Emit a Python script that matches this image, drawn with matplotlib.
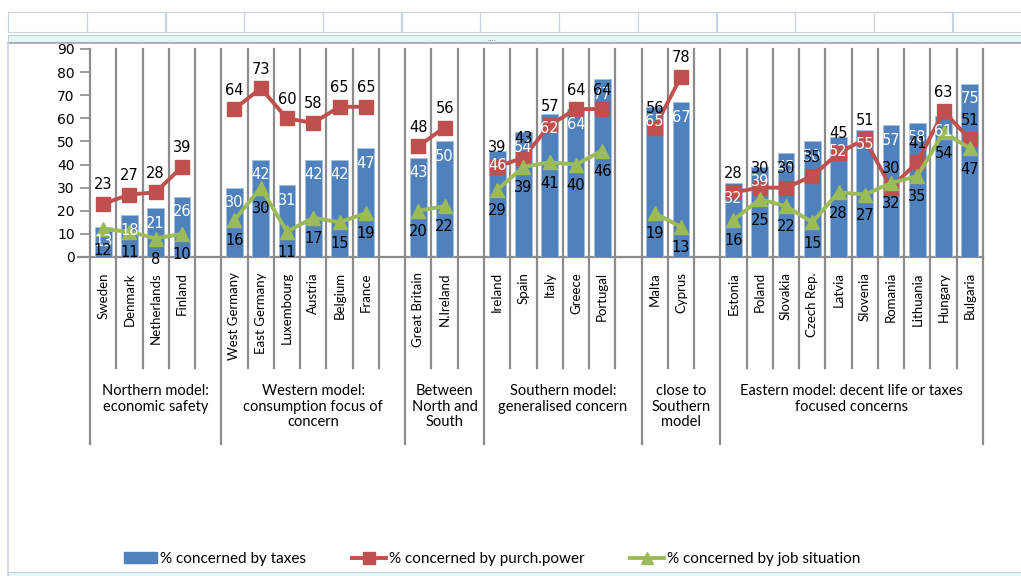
import numpy as np
import matplotlib.pyplot as plt
from matplotlib.patches import Rectangle
from matplotlib.lines import Line2D

# groups (models) and their countries
groups = ["Northern model:\neconomic safety",
          "Western model:\nconsumption focus of\nconcern",
          "Between\nNorth and\nSouth",
          "Southern model:\ngeneralised concern",
          "close to\nSouthern\nmodel",
          "Eastern model: decent life or taxes\nfocused concerns"]
group_sizes = [4, 6, 2, 5, 2, 10]

countries = ["Sweden", "Denmark", "Netherlands", "Finland",
             "West Germany", "East Germany", "Luxembourg", "Austria", "Belgium", "France",
             "Great Britain", "N.Ireland",
             "Ireland", "Spain", "Italy", "Greece", "Portugal",
             "Malta", "Cyprus",
             "Estonia", "Poland", "Slovakia", "Czech Rep.", "Latvia", "Slovenia",
             "Romania", "Lithuania", "Hungary", "Bulgaria"]

taxes = [13, 18, 21, 26,
         30, 42, 31, 42, 42, 47,
         43, 50,
         46, 54, 62, 64, 77,
         65, 67,
         32, 39, 45, 50, 52, 55, 57, 58, 61, 75]
purch = [23, 27, 28, 39,
         64, 73, 60, 58, 65, 65,
         48, 56,
         39, 43, 57, 64, 64,
         56, 78,
         28, 30, 30, 35, 45, 51, 30, 41, 63, 51]
job = [12, 11, 8, 10,
       16, 30, 11, 17, 15, 19,
       20, 22,
       29, 39, 41, 40, 46,
       19, 13,
       16, 25, 22, 15, 28, 27, 32, 35, 54, 47]

C_BAR = "#4F81BD"
C_RED = "#C0504D"
C_GRN = "#9BBB59"
C_GRID = "#8C8C8C"
W, H = 1021, 576

# slot layout: each group followed by an empty slot (except the last)
xs = []
bounds = [0]
pos = 0
for gi, n in enumerate(group_sizes):
    xs.extend(range(pos, pos + n))
    pos += n + (1 if gi < len(group_sizes) - 1 else 0)
    bounds.append(pos)
nslots = pos
xs = np.array(xs)

fig = plt.figure(figsize=(W / 100, H / 100), dpi=100)
ax = fig.add_axes([90 / W, 1 - 257 / H, (983 - 90) / W, (257 - 49) / H])
ax.set_xlim(-0.5, nslots - 0.5)
ax.set_ylim(0, 90)

# vertical grid lines at every slot boundary, longer at group boundaries
for b in range(nslots + 1):
    xb = b - 0.5
    low = -81 if b in bounds else -48
    ax.plot([xb, xb], [90, low], color=C_GRID, lw=1.6, clip_on=False, zorder=1)
ax.plot([-0.5 - 0.45, nslots - 0.5], [0, 0], color=C_GRID, lw=1.6, clip_on=False, zorder=1)

ax.bar(xs, taxes, width=0.64, color=C_BAR, edgecolor="#A7C0DE", linewidth=0.6, zorder=2)

# lines are broken between groups
start = 0
for n in group_sizes:
    sl = slice(start, start + n)
    ax.plot(xs[sl], purch[sl], color=C_RED, lw=2.8, marker="s", ms=9.5, zorder=3)
    ax.plot(xs[sl], job[sl], color=C_GRN, lw=2.8, marker="^", ms=10, zorder=3)
    start += n

lab_font = dict(fontsize=10.5, family="DejaVu Sans", ha="center", va="center", zorder=5)
for x, t, p, j in zip(xs, taxes, purch, job):
    ax.annotate(str(t), (x, t), xytext=(0, -10.8), textcoords="offset points",
                color="white", **lab_font)
    ax.annotate(str(p), (x, p), xytext=(0, 13.7), textcoords="offset points",
                color="black", **lab_font)
    ax.annotate(str(j), (x, j), xytext=(0, -15), textcoords="offset points",
                color="black", **lab_font)

for s in ax.spines.values():
    s.set_visible(False)
ax.set_xticks([])
ax.set_yticks(range(0, 91, 10))
ax.tick_params(axis="y", length=7, width=1.2, color=C_GRID, labelsize=10, pad=4)

# country labels
for x, name in zip(xs, countries):
    ax.text(x, -6.5, name, rotation=90, ha="center", va="top",
            fontsize=9.5, family="Lato")

# group labels
for gi, g in enumerate(groups):
    cx = (bounds[gi] + bounds[gi + 1]) / 2 - 0.5
    ax.text(cx, -55, g, ha="center", va="top", multialignment="center",
            fontsize=10.5, family="Lato", linespacing=1.15)

handles = [Rectangle((0, 0), 1, 1, color=C_BAR),
           Line2D([], [], color=C_RED, lw=2.8, marker="s", ms=8),
           Line2D([], [], color=C_GRN, lw=2.8, marker="^", ms=8)]
fig.legend(handles, ["% concerned by taxes", "% concerned by purch.power",
                     "% concerned by job situation"],
           loc="center", bbox_to_anchor=(0.482, 1 - 559 / H), ncol=3, frameon=False,
           prop={"family": "Lato", "size": 11}, handlelength=2.2,
           columnspacing=3.0, handletextpad=0.2)

# spreadsheet frame around the chart
def fx(x):
    return x / W

def fy(y):
    return 1 - y / H

frame = "#C9D3E0"
for x0 in [8, 87, 165, 244, 323, 401, 480, 559, 638, 716, 795, 874, 952]:
    fig.add_artist(Rectangle((fx(x0), fy(32)), fx(79), 20 / H, fill=False,
                             edgecolor=frame, lw=0.8))
fig.add_artist(Rectangle((fx(8), fy(42)), fx(1013), 7 / H, facecolor="#E3F6F8",
                         edgecolor="#B8C4CC", lw=0.6))
fig.add_artist(Line2D([fx(8), fx(1021)], [fy(43), fy(43)], color="#A0A8B0", lw=1.2))
fig.text(fx(492), fy(39), "....", fontsize=5, color="#707070", ha="center", va="center")
fig.add_artist(Line2D([fx(8), fx(8)], [fy(43), fy(576)], color=frame, lw=1.2))
fig.add_artist(Rectangle((fx(8), fy(576)), fx(1013), 4 / H, facecolor="#E3F6F8",
                         edgecolor="#B8C4CC", lw=0.6))

fig.savefig("out.png", dpi=100)
